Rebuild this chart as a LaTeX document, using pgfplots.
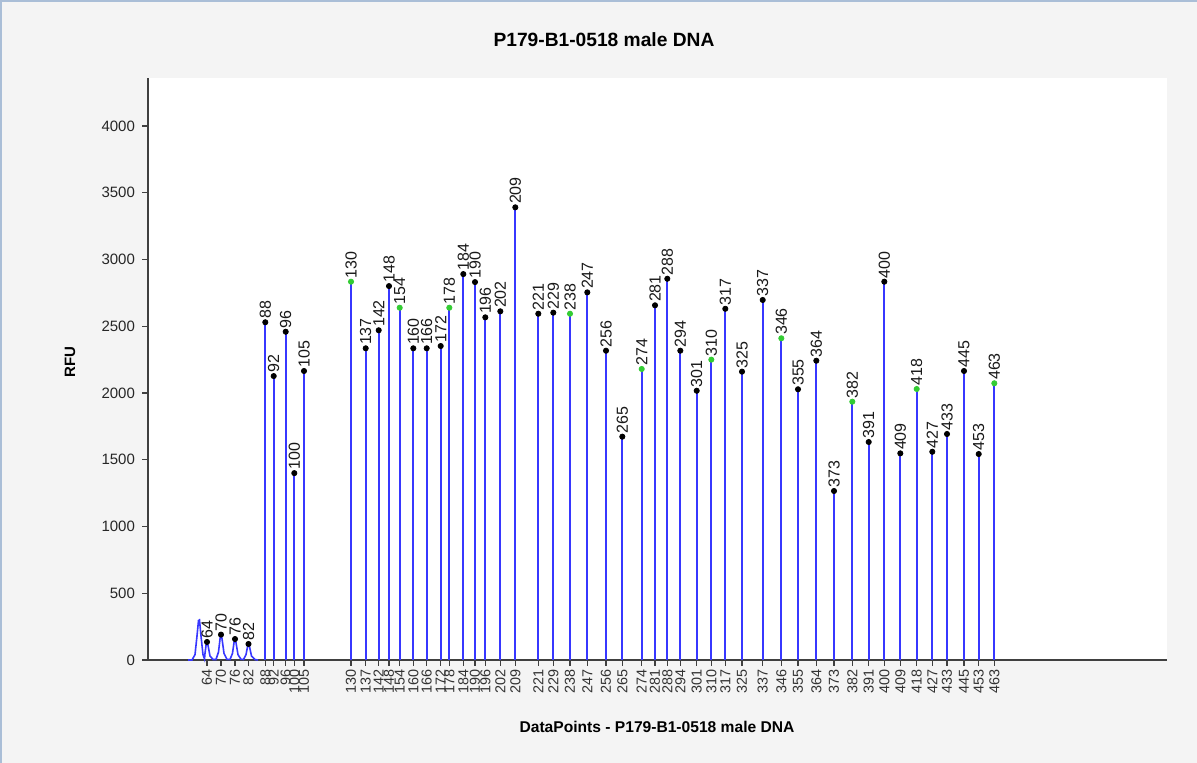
\documentclass[border=0pt]{standalone}
\usepackage{pgfplots}
\usepackage{pgfplotstable}
\pgfplotsset{compat=1.18}
\usepackage{fontspec}
\setmainfont{Liberation Sans}
\definecolor{peakblue}{RGB}{55,55,255}
\definecolor{peakgreen}{RGB}{51,204,51}
\definecolor{bgray}{RGB}{244,244,244}
\definecolor{framec}{RGB}{170,190,215}

\pgfplotstableread{
x h lab
207 135 64
221 190 70
235 157 76
248.5 120 82
265.3 2530 88
273.7 2127 92
285.7 2459 96
294.3 1400 100
304 2165 105
365.7 2335 137
378.7 2470 142
389 2801 148
413.3 2335 160
426.7 2335 166
440.7 2352 172
463.3 2891 184
475 2831 190
485.3 2567 196
500.3 2612 202
515.3 3391 209
538.3 2594 221
553.3 2602 229
587.3 2754 247
606 2317 256
622.3 1673 265
655 2657 281
667.3 2856 288
680.3 2317 294
696.7 2017 301
725.3 2631 317
742 2160 325
762.7 2697 337
798 2028 355
816.3 2242 364
834 1266 373
868.7 1633 391
884.3 2834 400
900.3 1548 409
932.3 1560 427
947 1693 433
964 2165 445
978.7 1543 453
}\blackpeaks

\pgfplotstableread{
x h lab
351 2834 130
399.7 2639 154
449.3 2639 178
570 2594 238
641.7 2180 274
711.3 2250 310
781.3 2410 346
852.3 1935 382
916.7 2030 418
994.3 2073 463
}\greenpeaks

\begin{document}
\begin{tikzpicture}
\useasboundingbox (0,0) rectangle (598.5pt,381.5pt);
\fill[bgray] (0,0) rectangle (598.5pt,381.5pt);
\draw[framec, line width=0.8pt] (0.5pt,0) -- (0.5pt,381pt) -- (598.5pt,381pt);
\begin{axis}[
  at={(74pt,51.5pt)}, anchor=south west,
  scale only axis, width=509.5pt, height=291pt,
  axis background/.style={fill=white},
  xmin=148, xmax=1167, ymin=0, ymax=4360,
  axis x line*=bottom, axis y line*=left,
  axis line style={-, black!75, line width=0.6pt},
  tick align=outside, major tick length=3pt,
  tick style={black!75, line width=0.6pt},
  ytick={0,500,...,4000},
  yticklabel style={font=\fontsize{7.5}{9}\selectfont, color=black!85},
  /pgf/number format/1000 sep={},
  /pgf/number format/assume math mode=true,
  xtick={207,221,235,248.5,265.3,273.7,285.7,294.3,304,351,365.7,378.7,389,399.7,413.3,426.7,440.7,449.3,463.3,475,485.3,500.3,515.3,538.3,553.3,570,587.3,606,622.3,641.7,655,667.3,680.3,696.7,711.3,725.3,742,762.7,781.3,798,816.3,834,852.3,868.7,884.3,900.3,916.7,932.3,947,964,978.7,994.3},
  xticklabels={64,70,76,82,88,92,96,100,105,130,137,142,148,154,160,166,172,178,184,190,196,202,209,221,229,238,247,256,265,274,281,288,294,301,310,317,325,337,346,355,364,373,382,391,400,409,418,427,433,445,453,463},
  xticklabel style={rotate=90, anchor=east, font=\fontsize{7.2}{8}\selectfont, color=black!80, inner sep=1.5pt},
  clip=false,
  peaklbl/.style={point meta=explicit symbolic, nodes near coords,
    every node near coord/.append style={rotate=90, anchor=west, font=\fontsize{8}{9}\selectfont, color=black!90, inner sep=1.5pt}},
]
% small early peaks drawn as shapes
\addplot[color=peakblue, line width=0.8pt] coordinates {
(188,0)(192,0)(195,40)(197,180)(198.5,295)(199.5,300)(201,180)(203,40)(204.5,8)
(205,50)(206.3,125)(207,135)(208,110)(210,30)(213,4)
(216,4)(218.5,60)(220.3,175)(221,190)(222,160)(224,50)(227,5)
(230,4)(232.5,50)(234.3,145)(235,157)(236,130)(238,40)(241,5)
(243.5,4)(246,40)(247.8,110)(248.5,120)(249.5,100)(251.5,30)(255,3)(258,0)
};
\addplot[ycomb, color=peakblue, line width=0.9pt, skip coords between index={0}{4}] table[x=x,y=h] {\blackpeaks};
\addplot[ycomb, color=peakblue, line width=0.9pt] table[x=x,y=h] {\greenpeaks};
\addplot[only marks, mark=*, mark size=1.3pt, black, peaklbl] table[x=x,y=h,meta=lab] {\blackpeaks};
\addplot[only marks, mark=*, mark size=1.3pt, peakgreen, peaklbl] table[x=x,y=h,meta=lab] {\greenpeaks};
\end{axis}
\node[font=\bfseries\fontsize{9.6}{11}\selectfont] at (302pt,361.5pt) {P179-B1-0518 male DNA};
\node[font=\bfseries\fontsize{7.8}{9}\selectfont] at (328.5pt,18pt) {DataPoints - P179-B1-0518 male DNA};
\node[font=\bfseries\fontsize{7.5}{9}\selectfont, rotate=90] at (35pt,200.5pt) {RFU};
\end{tikzpicture}
\end{document}
